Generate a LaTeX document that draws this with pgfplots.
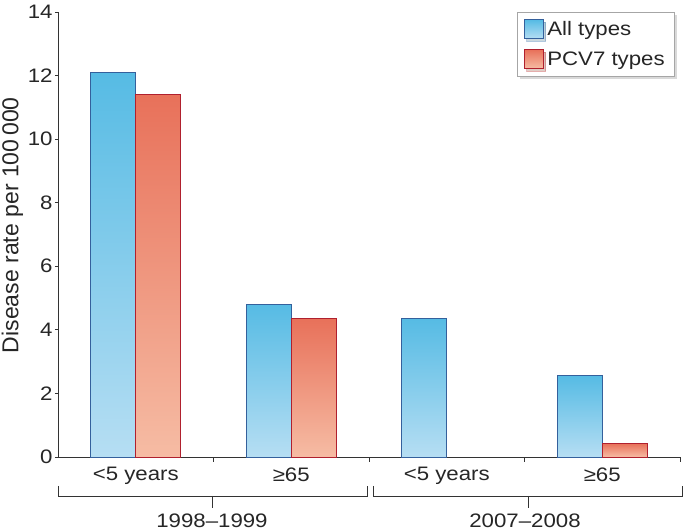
\documentclass[border=0pt]{standalone}
\usepackage{pgfplots}
\pgfplotsset{compat=1.18}
\usepackage{fontspec}
\setmainfont[FakeStretch=1.14]{Liberation Sans}
\newfontfamily\plainfont{Liberation Sans}
\usetikzlibrary{shadows}
\definecolor{blueTop}{HTML}{56BBE4}
\definecolor{blueBot}{HTML}{B6DEF3}
\definecolor{blueEdge}{HTML}{34609C}
\definecolor{redTop}{HTML}{E8715A}
\definecolor{redBot}{HTML}{F6BCA4}
\definecolor{redEdge}{HTML}{B0202E}
\definecolor{axisgray}{HTML}{333333}
\newcommand{\bigf}{\fontsize{19.5bp}{23bp}\selectfont}
\pgfplotsset{
  bluebar/.style={draw=blueEdge, line width=0.9bp, top color=blueTop, bottom color=blueBot, bar shift=-22.5bp},
  redbar/.style={draw=redEdge, line width=0.9bp, top color=redTop, bottom color=redBot, bar shift=22.5bp},
}
\begin{document}
\begin{tikzpicture}[font=\bigf]
\useasboundingbox (0,0) rectangle (685bp,530bp);
\begin{axis}[
  at={(58bp,73bp)}, anchor=south west,
  scale only axis, width=622bp, height=445bp,
  xmin=-0.5, xmax=3.5, ymin=0, ymax=14,
  axis x line*=bottom, axis y line*=left,
  axis line style={-, draw=axisgray, line width=0.8bp},
  ytick={0,2,...,14},
  xtick={0,1,2,3},
  xticklabels={<5 years,≥65,<5 years,≥65},
  minor xtick={0.5,1.5,2.5,3.5},
  major x tick style={draw=none},
  minor x tick style={draw=axisgray, line width=0.8bp},
  y tick style={draw=axisgray, line width=0.8bp},
  xtick align=inside, ytick align=outside,
  major tick length=3bp, minor tick length=5bp,
  /pgf/number format/assume math mode=true,
  ticklabel style={font=\bigf, text=black!85},
  xticklabel style={yshift=-4bp},
  yticklabel style={xshift=1bp},
  ylabel={Disease rate per 100\,000},
  ylabel style={font=\plainfont\fontsize{23bp}{27bp}\selectfont, text=black!85,
    at={(axis description cs:-0.0635,0.521)}, anchor=base},
  ybar, bar width=45bp,
  clip=false,
  legend cell align=left,
  legend style={at={(rel axis cs:1,1)}, anchor=north east, xshift=-5bp,
    draw=gray!70, fill=white, line width=0.6bp,
    drop shadow={shadow xshift=2.5bp, shadow yshift=-2.5bp, opacity=0.3},
    font=\bigf, text=black!85,
    inner xsep=6.5bp, inner ysep=7bp, row sep=10bp,
    nodes={inner xsep=3.5bp, inner ysep=1bp}},
  legend image code/.code={\draw[#1] (0bp,-9.5bp) rectangle (19bp,9.5bp);},
]
% All types (each bar its own plot so that each bar has its own gradient)
\addplot[bluebar] coordinates {(0,12.1)};
\addlegendentry{All types}
\addplot[redbar] coordinates {(0,11.4)};
\addlegendentry{PCV7 types}
\addplot[bluebar, forget plot] coordinates {(1,4.8)};
\addplot[bluebar, forget plot] coordinates {(2,4.35)};
\addplot[bluebar, forget plot] coordinates {(3,2.55)};
\addplot[redbar, forget plot] coordinates {(1,4.35)};
\addplot[redbar, forget plot] coordinates {(3,0.42)};
\end{axis}
\begin{scope}[draw=axisgray, line width=0.8bp]
\draw (58bp,44bp) -- (58bp,34bp) -- (367bp,34bp) -- (367bp,44bp);
\draw (212bp,34bp) -- (212bp,22bp);
\draw (373bp,44bp) -- (373bp,34bp) -- (682bp,34bp) -- (682bp,44bp);
\draw (528bp,34bp) -- (528bp,22bp);
\end{scope}
\node[anchor=base, text=black!85] at (212bp,3bp) {1998–1999};
\node[anchor=base, text=black!85] at (525bp,3bp) {2007–2008};
\end{tikzpicture}
\end{document}
